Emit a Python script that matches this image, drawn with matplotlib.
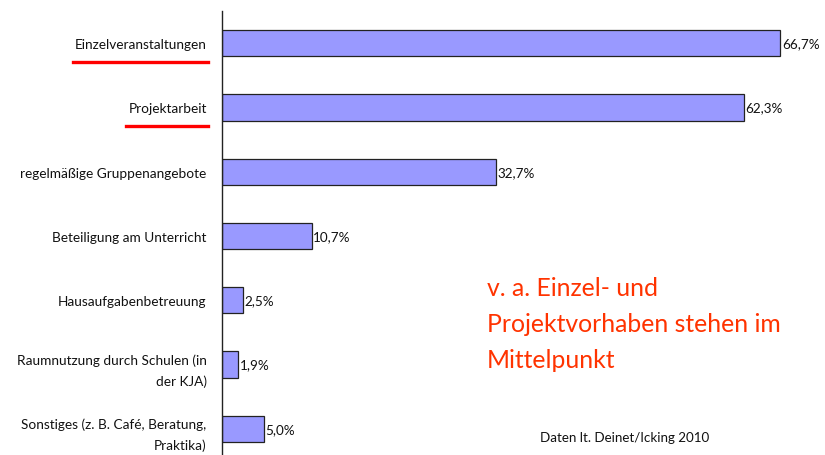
import matplotlib
matplotlib.use("Agg")
import matplotlib.pyplot as plt
from matplotlib.lines import Line2D

# data
categories = [
    "Einzelveranstaltungen",
    "Projektarbeit",
    "regelmäßige Gruppenangebote",
    "Beteiligung am Unterricht",
    "Hausaufgabenbetreuung",
    "Raumnutzung durch Schulen (in\nder KJA)",
    "Sonstiges (z. B. Café, Beratung,\nPraktika)",
]
values = [66.7, 62.3, 32.7, 10.7, 2.5, 1.9, 5.0]
value_labels = ["66,7%", "62,3%", "32,7%", "10,7%", "2,5%", "1,9%", "5,0%"]
underlined = [0, 1]

plt.rcParams["font.family"] = ["Lato", "DejaVu Sans"]

W, H = 825, 456
fig = plt.figure(figsize=(W / 100, H / 100), dpi=100)
# axes: left spine at x=222 px, top at y=12 px, reaching the bottom of the image
ax = fig.add_axes([222 / W, 0, 586 / W, (H - 12) / H])

y = list(range(len(categories)))
ax.barh(y, values, height=0.41, color="#9999FF", edgecolor="#222222", linewidth=0.9)
ax.set_xlim(0, 70)
ax.set_ylim(6 + 26 / 64, -0.5)

for yi, v, lab in zip(y, values, value_labels):
    ax.text(v + 0.2, yi, lab, va="center", ha="left", fontsize=9.7, color="#111111")

ax.set_yticks(y)
ax.set_yticklabels(categories, fontsize=9.8, color="#111111", linespacing=1.85)
ax.tick_params(axis="y", length=0, pad=11)
ax.set_xticks([])
for s in ["top", "right", "bottom"]:
    ax.spines[s].set_visible(False)
ax.spines["left"].set_color("#222222")
ax.spines["left"].set_linewidth(1.0)

# red underlines under the highlighted labels
fig.canvas.draw()
renderer = fig.canvas.get_renderer()
labels = ax.get_yticklabels()
for i in underlined:
    bb = labels[i].get_window_extent(renderer)
    yl = (bb.y0 - 12) / H
    fig.add_artist(Line2D([(bb.x0 - 2) / W, (bb.x1 + 1) / W], [yl, yl],
                          color="#FF0000", linewidth=2.4))

fig.text(487 / W, 1 - 277 / H, "v. a. Einzel- und\nProjektvorhaben stehen im\nMittelpunkt",
         color="#FF3300", fontsize=17.8, va="top", ha="left", linespacing=1.68)
fig.text(540 / W, 1 - 438 / H, "Daten lt. Deinet/Icking 2010", fontsize=9.6,
         color="#111111", va="center", ha="left")

fig.savefig("out.png", dpi=100)
